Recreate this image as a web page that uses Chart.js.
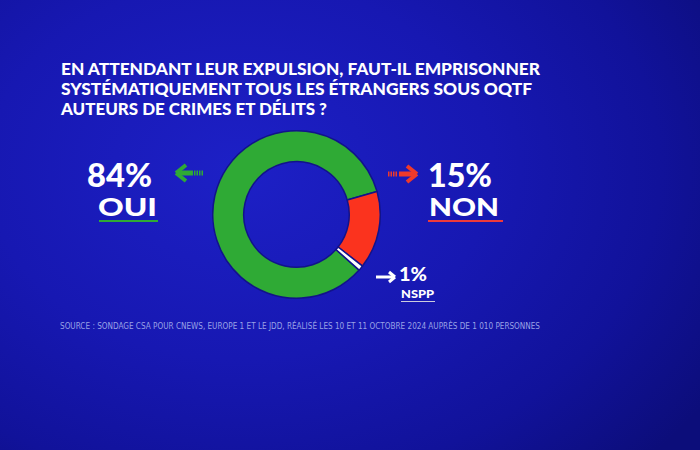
<!DOCTYPE html>
<html>
<head>
<meta charset="utf-8">
<script src="https://cdn.jsdelivr.net/npm/chart.js@4"></script>
<style>
  html, body { margin: 0; padding: 0; }
  body {
    width: 700px; height: 450px; overflow: hidden; position: relative;
    background: radial-gradient(ellipse 560px 420px at 240px 170px, #1d20c6 0%, #1718b2 45%, #11129a 75%, #0c0d7a 100%);
    font-family: Lato, "Open Sans", sans-serif;
    color: #fff;
  }
  .t { position: absolute; white-space: nowrap; transform-origin: 0 0; font-weight: 900; }
  .title { left: 61px; font-size: 16px; line-height: 16px; }
  .big { font-size: 32px; line-height: 24px; }
  .cat { font-size: 25px; line-height: 20px; }
  .line { position: absolute; height: 2px; }
  .src { font-family: "Liberation Sans Narrow", "DejaVu Sans Condensed", sans-serif; font-weight: 400;
         font-size: 8px; line-height: 8px; color: #9aa2e6; left: 60px; top: 323px; }
  #wrap { position: absolute; left: 212px; top: 130px; width: 169px; height: 169px; }
  svg { position: absolute; overflow: visible; }
</style>
</head>
<body>
<div class="t title" id="l1" style="top:61px"></div>
<div class="t title" id="l2" style="top:81px"></div>
<div class="t title" id="l3" style="top:101px"></div>

<div class="t big" id="p0" style="left:87px;top:163px"></div>
<div class="t cat" id="c0" style="left:98px;top:196px"></div>
<div class="line" style="left:99px;top:220px;width:59px;background:#2faa35"></div>

<div class="t big" id="p1" style="left:428px;top:163px"></div>
<div class="t cat" id="c1" style="left:429px;top:196px"></div>
<div class="line" style="left:428px;top:220px;width:75px;background:#ee3a3a"></div>

<div class="t" id="p2" style="left:399px;top:266px;font-size:18px;line-height:16px"></div>
<div class="t" id="c2" style="left:401px;top:288px;font-size:12px;line-height:11px"></div>
<div class="line" style="left:401px;top:301px;width:34px;height:1px;background:#ccd"></div>

<div class="t src" id="src"></div>

<svg width="700" height="450" style="left:0;top:0">
  <g stroke-linecap="butt">
    <path d="M176 173 L186 165 M176 173 L186 181" stroke="#2faa35" stroke-width="4" fill="none"/>
    <line x1="177" y1="173" x2="193" y2="173" stroke="#2faa35" stroke-width="5"/>
    <line x1="194" y1="173" x2="203" y2="173" stroke="#2faa35" stroke-width="5" stroke-dasharray="1.5 1"/>
    <path d="M417 174 L407 166 M417 174 L407 182" stroke="#ee3a2a" stroke-width="4" fill="none"/>
    <line x1="399" y1="174" x2="416" y2="174" stroke="#ee3a2a" stroke-width="5"/>
    <line x1="388" y1="174" x2="398" y2="174" stroke="#ee3a2a" stroke-width="5" stroke-dasharray="1.5 1"/>
    <path d="M395 277 L389 272 M395 277 L389 282" stroke="#fff" stroke-width="3" fill="none"/>
    <line x1="376" y1="277" x2="394" y2="277" stroke="#fff" stroke-width="3"/>
  </g>
</svg>

<div id="wrap"><canvas id="myChart" width="169" height="169"></canvas></div>

<script>
const titleLines = [
  'EN ATTENDANT LEUR EXPULSION, FAUT-IL EMPRISONNER',
  'SYSTÉMATIQUEMENT TOUS LES ÉTRANGERS SOUS OQTF',
  'AUTEURS DE CRIMES ET DÉLITS ?'
];
const categories = ['OUI', 'NON', 'NSPP'];
const values = [84, 15, 1];
const colors = ['#2faa35', '#fb331e', '#ffffff'];
const source = 'SOURCE : SONDAGE CSA POUR CNEWS, EUROPE 1 ET LE JDD, RÉALISÉ LES 10 ET 11 OCTOBRE 2024 AUPRÈS DE 1 010 PERSONNES';

// squeeze/stretch a text element to a target width
const fit = (el, w) => {
  const r = el.getBoundingClientRect().width;
  el.style.transform = 'scaleX(' + (w / r) + ')';
};

const lineWidths = [479, 471, 266];
titleLines.forEach((t, i) => {
  const el = document.getElementById('l' + (i + 1));
  el.textContent = t;
  fit(el, lineWidths[i]);
});

const pctWidths = [65, 64, 28];
const catWidths = [59, 70, 33];
categories.forEach((c, i) => {
  const p = document.getElementById('p' + i);
  const l = document.getElementById('c' + i);
  p.textContent = values[i] + '%';
  l.textContent = c;
  fit(p, pctWidths[i]);
  fit(l, catWidths[i]);
});

const src = document.getElementById('src');
src.textContent = source;
fit(src, 480);

new Chart(document.getElementById('myChart'), {
  type: 'doughnut',
  data: {
    labels: categories,
    datasets: [{
      data: values,
      backgroundColor: colors,
      borderColor: '#12138a',
      borderWidth: 1.5
    }]
  },
  options: {
    responsive: false,
    animation: false,
    cutout: '63%',
    rotation: 131.6,
    plugins: {
      legend: { display: false },
      tooltip: { enabled: false }
    }
  }
});
</script>
</body>
</html>
